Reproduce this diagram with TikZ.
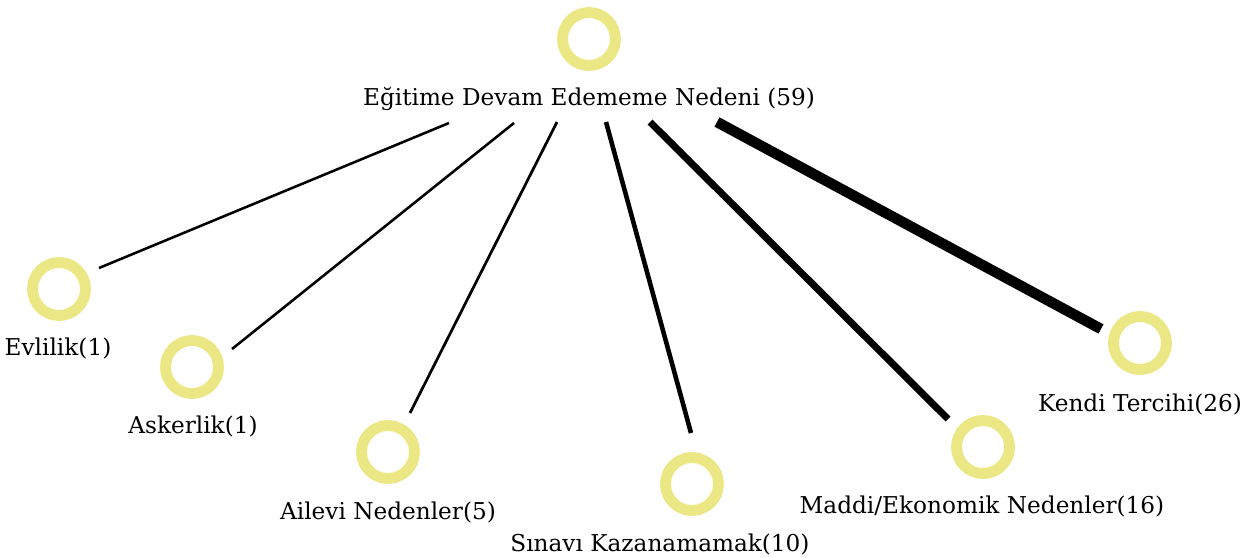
\documentclass[tikz,border=0pt]{standalone}
\definecolor{ringyellow}{RGB}{235, 231, 132}
\usepackage{fontspec}
\setmainfont{DejaVu Serif}
\usepackage{tikz}
\usetikzlibrary{positioning}

\begin{document}
\begin{tikzpicture}[x=0.02cm, y=-0.02cm,
    ring/.style={circle, draw=ringyellow, line width=6.2pt, minimum size=1.06cm, inner sep=0pt},
    lbl/.style={anchor=base, inner sep=0pt, font=\fontsize{13.2}{15}\selectfont},
    link/.style={line cap=butt}]
    \useasboundingbox (0,0) rectangle (1252,558);
    % rings
    \node[ring] (root) at (589,39) {};
    \node[ring] (evl) at (59,289) {};
    \node[ring] (ask) at (192,367) {};
    \node[ring] (ail) at (388,452) {};
    \node[ring] (sin) at (692,484) {};
    \node[ring] (mad) at (983,447) {};
    \node[ring] (ken) at (1140,343) {};
    % labels
    \node[lbl] (root-t) at (589,105) {Eğitime Devam Edememe Nedeni (59)};
    \node[lbl] (evl-t) at (58,355) {Evlilik(1)};
    \node[lbl] (ask-t) at (193,433) {Askerlik(1)};
    \node[lbl] (ail-t) at (388,519) {Ailevi Nedenler(5)};
    \node[lbl] (sin-t) at (660,551) {Sınavı Kazanamamak(10)};
    \node[lbl] (mad-t) at (982,513) {Maddi/Ekonomik Nedenler(16)};
    \node[lbl] (ken-t) at (1140,411) {Kendi Tercihi(26)};
    % line ends
    \coordinate (evl-a) at (449,123);
    \coordinate (ask-a) at (514,123);
    \coordinate (ail-a) at (557,122);
    \coordinate (sin-a) at (606,122);
    \coordinate (mad-a) at (650,122);
    \coordinate (ken-a) at (717,122);
    \coordinate (evl-b) at (99,268);
    \coordinate (ask-b) at (232,349);
    \coordinate (ail-b) at (410,413);
    \coordinate (sin-b) at (691,433);
    \coordinate (mad-b) at (948,419);
    \coordinate (ken-b) at (1101,329);
    \draw[link, line width=1.45pt] (evl-a) -- (evl-b);
    \draw[link, line width=1.45pt] (ask-a) -- (ask-b);
    \draw[link, line width=1.55pt] (ail-a) -- (ail-b);
    \draw[link, line width=2.6pt] (sin-a) -- (sin-b);
    \draw[link, line width=4pt] (mad-a) -- (mad-b);
    \draw[link, line width=6pt] (ken-a) -- (ken-b);
\end{tikzpicture}
\end{document}
